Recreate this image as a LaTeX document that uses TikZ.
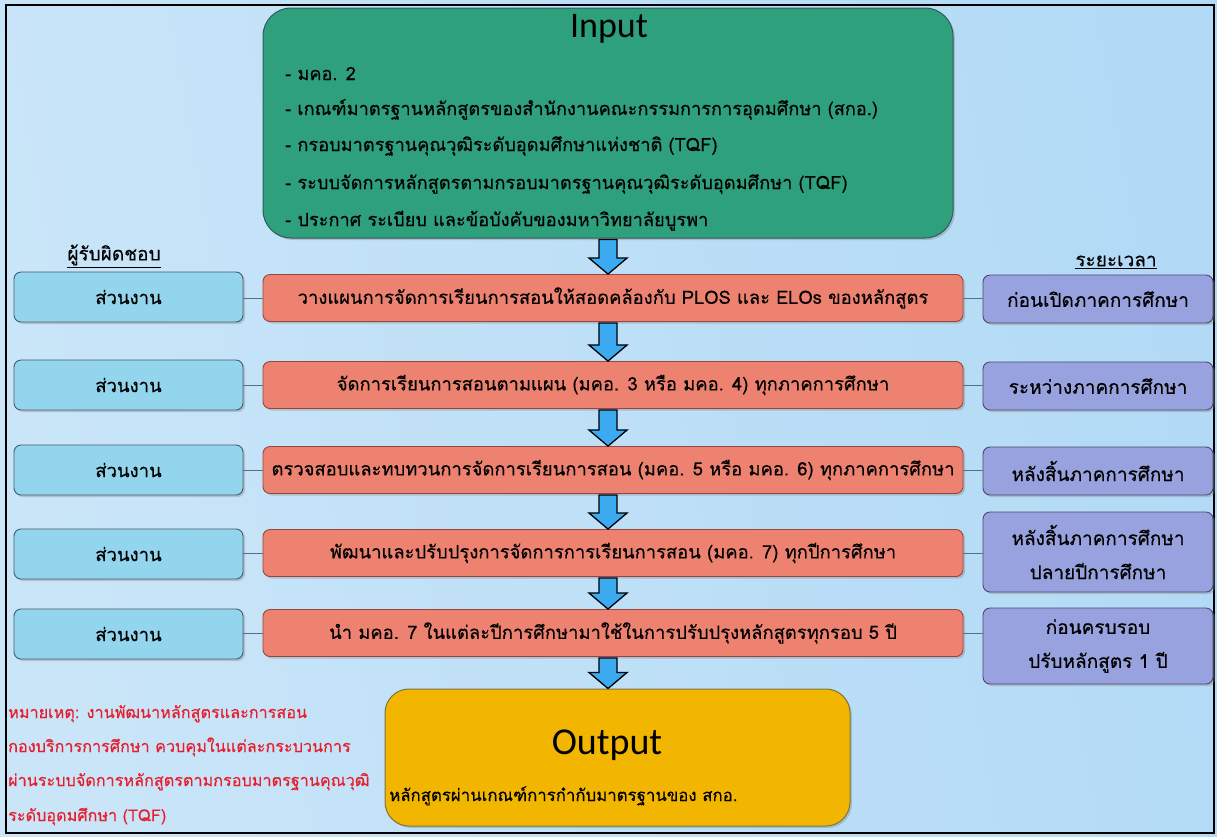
\documentclass[tikz,border=0pt]{standalone}
\usepackage{fontspec}
\setmainfont[Script=Thai,FakeBold=0.35]{Loma}
\newfontfamily\titlefont{Carlito}
\usetikzlibrary{calc,shadows}
\definecolor{bgL}{RGB}{202,229,248}
\definecolor{bgM}{RGB}{240,248,253}
\definecolor{bgR}{RGB}{178,218,246}
\definecolor{cBlue}{RGB}{146,213,236}
\definecolor{cBlueD}{RGB}{70,90,110}
\definecolor{cRed}{RGB}{238,130,112}
\definecolor{cRedD}{RGB}{150,70,60}
\definecolor{cPur}{RGB}{152,162,222}
\definecolor{cPurD}{RGB}{80,70,110}
\definecolor{cGreen}{RGB}{46,160,124}
\definecolor{cGreenD}{RGB}{50,90,95}
\definecolor{cGold}{RGB}{242,182,0}
\definecolor{cGoldD}{RGB}{120,120,60}
\definecolor{cArrow}{RGB}{60,170,240}
\definecolor{cLink}{RGB}{90,110,140}
\definecolor{cNote}{RGB}{232,30,45}
\newcommand{\blockarr}[2]{%
  \path (ax |- #1.south) coordinate (s) (ax |- #2.north) coordinate (t);
  \draw[arrowsty] ($(s)+(-9,1)$) -- ($(t)+(-9,-16)$) -- ($(t)+(-19,-16)$) -- (t)
    -- ($(t)+(19,-16)$) -- ($(t)+(9,-16)$) -- ($(s)+(9,1)$) -- cycle;}
\begin{document}
\begin{tikzpicture}[x=1pt,y=-1pt,
  shadowed/.style={drop shadow={shadow xshift=2pt,shadow yshift=-2pt,opacity=0.35}},
  boxbase/.style={draw, line width=0.9pt, rounded corners=7pt, align=center, inner sep=0pt, shadowed},
  whobox/.style={boxbase, fill=cBlue, draw=cBlueD, minimum width=229pt, minimum height=50pt, font=\fontsize{18.5}{22}\selectfont},
  taskbox/.style={boxbase, fill=cRed, draw=cRedD, minimum width=700pt, minimum height=47pt, font=\fontsize{18.4}{21}\selectfont},
  timebox/.style={boxbase, fill=cPur, draw=cPurD, minimum width=230pt, minimum height=48pt, font=\fontsize{19}{34}\selectfont},
  bigbox/.style={draw, line width=1pt, rounded corners=28pt, inner sep=0pt, shadowed},
  link/.style={draw=cLink, line width=0.8pt},
  arrowsty/.style={fill=cArrow, draw=black, line width=1.3pt, line join=miter},
  item/.style={anchor=base west, inner sep=0pt, font=\fontsize{18.2}{21}\selectfont},
  note/.style={anchor=base west, inner sep=0pt, text=cNote, font=\fontsize{16.2}{19}\selectfont},
  head/.style={inner sep=0pt, font=\fontsize{19}{22}\selectfont}]
\useasboundingbox (0,0) rectangle (1217,836);
\shade[left color=bgL, middle color=bgM, right color=bgR, shading angle=100] (0,0) rectangle (1217,836);
\draw[black, line width=1.6pt] (6,5) rectangle (1214,833);
\coordinate (ax) at (608,0);

% Input
\node[bigbox, fill=cGreen, draw=cGreenD, minimum width=690pt, minimum height=230pt] (input) at (608,123) {};
\node[inner sep=0pt, font=\titlefont\fontsize{36}{40}\selectfont] (intitle) at (609,29) {Input};
\node[item] (i1) at (285,80) {- มคอ. 2};
\node[item] (i2) at (285,115) {- เกณฑ์มาตรฐานหลักสูตรของสำนักงานคณะกรรมการการอุดมศึกษา (สกอ.)};
\node[item] (i3) at (285,151) {- กรอบมาตรฐานคุณวุฒิระดับอุดมศึกษาแห่งชาติ (TQF)};
\node[item] (i4) at (285,189) {- ระบบจัดการหลักสูตรตามกรอบมาตรฐานคุณวุฒิระดับอุดมศึกษา (TQF)};
\node[item] (i5) at (285,226) {- ประกาศ ระเบียบ และข้อบังคับของมหาวิทยาลัยบูรพา};

% headers
\node[head] (hwho) at (114,256) {\underline{ผู้รับผิดชอบ}};
\node[head] (htime) at (1116,262) {\underline{ระยะเวลา}};

% rows
\node[whobox] (w1) at (128.5,297) {ส่วนงาน};
\node[taskbox] (t1) at (613,298) {วางแผนการจัดการเรียนการสอนให้สอดคล้องกับ PLOS และ ELOs ของหลักสูตร};
\node[timebox] (p1) at (1098,299) {ก่อนเปิดภาคการศึกษา};

\node[whobox] (w2) at (128.5,385) {ส่วนงาน};
\node[taskbox] (t2) at (613,385) {จัดการเรียนการสอนตามแผน (มคอ. 3 หรือ มคอ. 4) ทุกภาคการศึกษา};
\node[timebox] (p2) at (1098,386) {ระหว่างภาคการศึกษา};

\node[whobox] (w3) at (128.5,470) {ส่วนงาน};
\node[taskbox] (t3) at (613,470) {ตรวจสอบและทบทวนการจัดการเรียนการสอน (มคอ. 5 หรือ มคอ. 6) ทุกภาคการศึกษา};
\node[timebox] (p3) at (1098,471) {หลังสิ้นภาคการศึกษา};

\node[whobox] (w4) at (128.5,554) {ส่วนงาน};
\node[taskbox] (t4) at (613,553) {พัฒนาและปรับปรุงการจัดการการเรียนการสอน (มคอ. 7) ทุกปีการศึกษา};
\node[timebox, minimum height=80pt] (p4) at (1098,552) {หลังสิ้นภาคการศึกษา\\ปลายปีการศึกษา};

\node[whobox] (w5) at (128.5,634) {ส่วนงาน};
\node[taskbox] (t5) at (613,633) {นำ มคอ. 7 ในแต่ละปีการศึกษามาใช้ในการปรับปรุงหลักสูตรทุกรอบ 5 ปี};
\node[timebox, minimum height=76pt] (p5) at (1098,646) {ก่อนครบรอบ\\ปรับหลักสูตร 1 ปี};

\foreach \i in {1,...,5}{
  \draw[link] (w\i.east |- t\i.west) -- (t\i.west);
  \draw[link] (t\i.east) -- (p\i.west |- t\i.east);
}

% Output
\node[bigbox, fill=cGold, draw=cGoldD, rounded corners=24pt, minimum width=465pt, minimum height=137pt] (output) at (617.5,757.5) {};
\node[inner sep=0pt, font=\titlefont\fontsize{38}{42}\selectfont] (outtitle) at (607,745) {Output};
\node[item, font=\fontsize{16.8}{19}\selectfont] (otext) at (389,801) {หลักสูตรผ่านเกณฑ์การกำกับมาตรฐานของ สกอ.};

% arrows
\blockarr{input}{t1}
\blockarr{t1}{t2}
\blockarr{t2}{t3}
\blockarr{t3}{t4}
\blockarr{t4}{t5}
\blockarr{t5}{output}

% note
\node[note] (n1) at (8,718) {หมายเหตุ: งานพัฒนาหลักสูตรและการสอน};
\node[note] (n2) at (8,752) {กองบริการการศึกษา ควบคุมในแต่ละกระบวนการ};
\node[note] (n3) at (8,786) {ผ่านระบบจัดการหลักสูตรตามกรอบมาตรฐานคุณวุฒิ};
\node[note] (n4) at (8,821) {ระดับอุดมศึกษา (TQF)};
\end{tikzpicture}
\end{document}
